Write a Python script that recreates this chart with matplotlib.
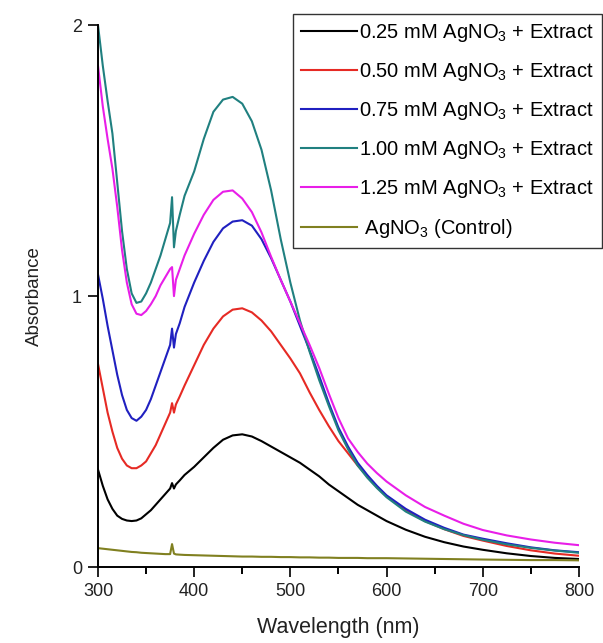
import matplotlib
matplotlib.use("Agg")
import matplotlib.pyplot as plt
import matplotlib.ticker as mticker

plt.rcParams['font.family'] = ['Liberation Sans', 'DejaVu Sans']
plt.rcParams['mathtext.fontset'] = 'custom'
plt.rcParams['mathtext.rm'] = 'Liberation Sans'

# wavelength grid (nm)
wl = [300, 305, 310, 315, 320, 325, 330, 335, 340, 345, 350, 355, 360, 365, 370,
      375, 377, 379, 381, 385, 390, 400, 410, 420, 430, 440, 450, 460, 470, 480,
      490, 500, 510, 520, 530, 540, 550, 560, 570, 580, 590, 600, 620, 640, 660,
      680, 700, 725, 750, 775, 800]

a_025 = [0.36, 0.30, 0.25, 0.215, 0.19, 0.178, 0.172, 0.17, 0.172, 0.18, 0.195, 0.21, 0.23, 0.25, 0.27,
         0.29, 0.31, 0.29, 0.305, 0.32, 0.34, 0.37, 0.405, 0.44, 0.47, 0.486, 0.49, 0.482, 0.465, 0.445,
         0.425, 0.405, 0.385, 0.36, 0.335, 0.305, 0.28, 0.255, 0.23, 0.21, 0.19, 0.17, 0.138, 0.112, 0.092,
         0.076, 0.064, 0.051, 0.041, 0.034, 0.03]
a_050 = [0.75, 0.66, 0.57, 0.50, 0.44, 0.40, 0.375, 0.365, 0.365, 0.375, 0.39, 0.42, 0.45, 0.49, 0.53,
         0.57, 0.605, 0.57, 0.60, 0.63, 0.67, 0.745, 0.82, 0.88, 0.925, 0.95, 0.955, 0.94, 0.91, 0.87,
         0.82, 0.77, 0.715, 0.645, 0.58, 0.52, 0.465, 0.42, 0.375, 0.335, 0.295, 0.262, 0.21, 0.17, 0.14,
         0.115, 0.098, 0.078, 0.062, 0.05, 0.042]
a_075 = [1.08, 0.99, 0.89, 0.80, 0.71, 0.635, 0.58, 0.55, 0.54, 0.555, 0.58, 0.62, 0.67, 0.72, 0.77,
         0.82, 0.88, 0.81, 0.86, 0.90, 0.96, 1.05, 1.13, 1.20, 1.25, 1.275, 1.28, 1.26, 1.21, 1.14,
         1.06, 0.98, 0.89, 0.80, 0.705, 0.605, 0.515, 0.445, 0.385, 0.34, 0.30, 0.265, 0.215, 0.175, 0.145,
         0.12, 0.105, 0.088, 0.073, 0.062, 0.055]
a_100 = [2.0, 1.85, 1.72, 1.60, 1.42, 1.24, 1.10, 1.01, 0.975, 0.98, 1.01, 1.05, 1.10, 1.15, 1.21,
         1.27, 1.365, 1.18, 1.24, 1.30, 1.37, 1.46, 1.58, 1.68, 1.725, 1.735, 1.71, 1.645, 1.54, 1.39,
         1.21, 1.05, 0.91, 0.795, 0.69, 0.595, 0.505, 0.435, 0.375, 0.33, 0.292, 0.258, 0.205, 0.168, 0.14,
         0.118, 0.101, 0.084, 0.071, 0.061, 0.053]
a_125 = [1.85, 1.70, 1.58, 1.47, 1.33, 1.17, 1.05, 0.97, 0.935, 0.93, 0.945, 0.97, 1.00, 1.04, 1.07,
         1.10, 1.107, 1.00, 1.06, 1.10, 1.15, 1.23, 1.30, 1.355, 1.385, 1.39, 1.36, 1.31, 1.235, 1.145,
         1.06, 0.98, 0.90, 0.82, 0.735, 0.64, 0.55, 0.475, 0.425, 0.382, 0.347, 0.316, 0.265, 0.222, 0.19,
         0.16, 0.137, 0.117, 0.102, 0.09, 0.081]
a_ctrl = [0.07, 0.068, 0.066, 0.064, 0.062, 0.06, 0.058, 0.056, 0.055, 0.053, 0.052, 0.051, 0.05, 0.049, 0.048,
          0.048, 0.085, 0.05, 0.047, 0.046, 0.045, 0.044, 0.043, 0.042, 0.041, 0.04, 0.039, 0.039, 0.038, 0.038,
          0.037, 0.037, 0.036, 0.036, 0.035, 0.035, 0.034, 0.034, 0.034, 0.033, 0.033, 0.033, 0.032, 0.031, 0.03,
          0.029, 0.028, 0.027, 0.026, 0.026, 0.025]

labels = [r'0.25 mM AgNO$_3$ + Extract', r'0.50 mM AgNO$_3$ + Extract',
          r'0.75 mM AgNO$_3$ + Extract', r'1.00 mM AgNO$_3$ + Extract',
          r'1.25 mM AgNO$_3$ + Extract', r' AgNO$_3$ (Control)']
series = [a_025, a_050, a_075, a_100, a_125, a_ctrl]
colors = ['#000000', '#e62a24', '#2020c0', '#208080', '#e81ee8', '#808020']

fig = plt.figure(figsize=(6.03, 6.43), dpi=100)
ax = fig.add_axes([0.1625, 0.118, 0.7975, 0.843])

for y, c, lab in zip(series, colors, labels):
    ax.plot(wl, y, color=c, lw=1.5, label=lab)

ax.set_xlim(300, 800)
ax.set_ylim(0, 2)
ax.xaxis.set_major_locator(mticker.MultipleLocator(100))
ax.xaxis.set_minor_locator(mticker.MultipleLocator(50))
ax.yaxis.set_major_locator(mticker.MultipleLocator(1))
for s in ['top', 'right']:
    ax.spines[s].set_visible(False)
for s in ['left', 'bottom']:
    ax.spines[s].set_linewidth(1.4)
ax.tick_params(axis='both', which='major', direction='out', length=7.5, width=1.4,
               labelsize=13, colors='#222222', pad=4)
ax.tick_params(axis='x', which='minor', direction='out', length=5, width=1.4)
ax.set_xlabel('Wavelength (nm)', fontsize=15.5, color='#222222', labelpad=12)
ax.set_ylabel('Absorbance', fontsize=13.5, color='#222222', labelpad=21)

leg = fig.legend(loc='upper right', bbox_to_anchor=(0.9985, 0.979), fontsize=14.5,
                 handlelength=2.8, handletextpad=0.1, labelspacing=0.85,
                 borderpad=0.4, borderaxespad=0, fancybox=False, framealpha=1)
leg.get_frame().set_edgecolor('#333333')
leg.get_frame().set_linewidth(1.0)

fig.savefig('out.png', dpi=100)
